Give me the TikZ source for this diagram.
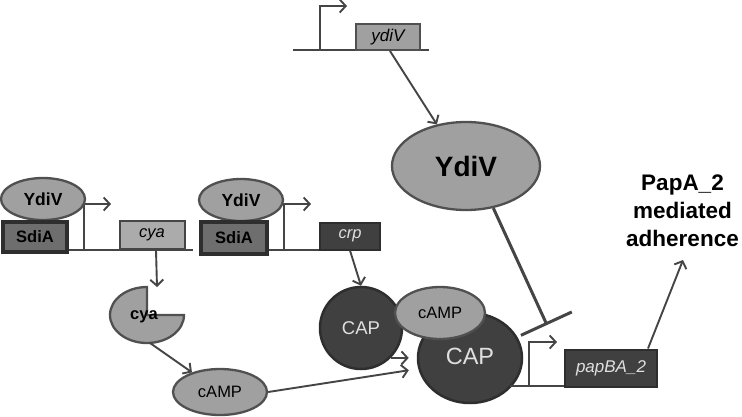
\documentclass[tikz,border=0pt]{standalone}
\usepackage{fontspec}
\setmainfont{Liberation Sans}
\usetikzlibrary{arrows.meta,shapes.geometric}
\definecolor{lg}{HTML}{A0A0A0}
\definecolor{lgbox}{HTML}{ABABAB}
\definecolor{mg}{HTML}{6E6E6E}
\definecolor{dk}{HTML}{404040}
\definecolor{edge}{HTML}{505050}
\definecolor{dedge}{HTML}{2E2E2E}
\definecolor{ln}{HTML}{454545}
\definecolor{wtxt}{HTML}{E0E0E0}
\newcommand{\fs}[1]{\fontsize{#1}{#1}\selectfont}
\tikzset{
  oval/.style={ellipse, draw=edge, line width=2.3pt, fill=lg, inner sep=0pt},
  darkoval/.style={ellipse, draw=dedge, line width=2.5pt, fill=dk, inner sep=0pt, text=wtxt},
  sdia/.style={rectangle, draw=dedge, line width=3.5pt, fill=mg, inner sep=0pt, minimum width=64pt, minimum height=30pt, font=\bfseries\fs{16.5}},
  genebox/.style={rectangle, draw=edge, line width=2pt, inner sep=0pt, font=\itshape\fs{16.5}},
  dna/.style={draw=ln, line width=2pt},
  prom/.style={draw=ln, line width=1.9pt, -{Straight Barb[length=6pt,width=13pt,line width=1.9pt]}},
  arr/.style={draw=ln, line width=1.9pt, -{Straight Barb[length=6pt,width=13pt,line width=1.9pt]}},
  inhib/.style={draw=ln, line width=3pt, -{Bar[width=56pt,line width=3pt]}}
}
\begin{document}
\begin{tikzpicture}[x=1pt,y=-1pt]
\useasboundingbox[fill=white] (0,0) rectangle (742,416);

% ---- top ydiV gene
\coordinate (tl) at (293,50);
\coordinate (tr) at (429,50);
\coordinate (tp0) at (320,50);
\coordinate (tp1) at (320,6);
\coordinate (tp2) at (347,6);
\draw[dna] (tl) -- (tr);
\draw[prom] (tp0) -- (tp1) -- (tp2);
\node[genebox, fill=lg, minimum width=64pt, minimum height=26pt, font=\itshape\fs{17}] (ydivbox) at (388,37) {ydiV};

% ---- big YdiV
\node[oval, minimum width=148pt, minimum height=88pt, font=\bfseries\fs{28}] (bigydiv) at (466,166) {YdiV};
\draw[arr] ([xshift=2pt]ydivbox.south) -- (bigydiv.125);

% ---- group 1 (cya)
\coordinate (g1l) at (67,250);
\coordinate (g1r) at (193,250);
\coordinate (g1p0) at (84,250);
\coordinate (g1p1) at (84,204);
\coordinate (g1p2) at (111,204);
\draw[dna] (g1l) -- (g1r);
\draw[prom] (g1p0) -- (g1p1) -- (g1p2);
\node[oval, minimum width=84pt, minimum height=42pt, font=\bfseries\fs{17.5}] (ydiv1) at (43,199) {YdiV};
\node[sdia] (sdia1) at (35,237) {SdiA};
\node[genebox, fill=lgbox, draw=ln, minimum width=65pt, minimum height=28pt] (cyabox) at (152,235) {cya};

% ---- group 2 (crp)
\coordinate (g2l) at (267,250);
\coordinate (g2r) at (380,250);
\coordinate (g2p0) at (284,250);
\coordinate (g2p1) at (284,204);
\coordinate (g2p2) at (311,204);
\draw[dna] (g2l) -- (g2r);
\draw[prom] (g2p0) -- (g2p1) -- (g2p2);
\node[oval, minimum width=84pt, minimum height=42pt, font=\bfseries\fs{17.5}] (ydiv2) at (241,200) {YdiV};
\node[sdia, minimum width=66pt, minimum height=32pt] (sdia2) at (234,238) {SdiA};
\node[genebox, fill=dk, draw=dedge, text=wtxt, minimum width=60pt, minimum height=27pt] (crpbox) at (350,236) {crp};

% ---- cya enzyme (pacman)
\draw[draw=edge, line width=2.3pt, fill=lg] (147,287) arc[start angle=90, end angle=360, x radius=37pt, y radius=28pt] -- (147,315) -- cycle;
\node[font=\bfseries\fs{16.5}] (cyaenz) at (144,317) {cya};
\coordinate (cyaenzin) at (157,287);
\coordinate (cyaenzout) at (150,343);
\draw[arr] ([xshift=4pt]cyabox.south) -- (cyaenzin);

% ---- cAMP (free)
\node[oval, minimum width=94pt, minimum height=46pt, font=\fs{16.5}] (camp1) at (220,392) {cAMP};
\draw[arr] (cyaenzout) -- (camp1);

% ---- CAP complex
\node[darkoval, minimum width=82pt, minimum height=82pt, font=\fs{18.5}] (smallcap) at (361,328) {CAP};
\node[darkoval, minimum width=104pt, minimum height=90pt, font=\fs{23.5}] (bigcap) at (470,358) {\raisebox{4pt}{CAP}};
\node[oval, minimum width=90pt, minimum height=52pt, font=\fs{16.5}] (camp2) at (440,313) {cAMP};
\draw[arr] (crpbox.south) -- (smallcap.north);
\draw[arr, shorten >=8pt] (smallcap.-45) -- (smallcap.-45 -| bigcap.west);
\draw[arr, shorten >=8pt] (camp1.east) -- ([yshift=-11pt]bigcap.west);

% ---- papBA_2 gene
\coordinate (pl) at (510,386);
\coordinate (pp0) at (529,386);
\coordinate (pp1) at (529,342);
\coordinate (pp2) at (557,342);
\node[genebox, fill=dk, draw=dedge, text=wtxt, minimum width=92pt, minimum height=37pt, font=\itshape\fs{17}] (papbox) at (611,368) {papBA\_2};
\draw[dna] (pl) -- (papbox.west |- pl);
\draw[prom] (pp0) -- (pp1) -- (pp2);

% ---- inhibition
\coordinate (inh) at (547,325);
\draw[inhib] (bigydiv.-57) -- (inh);

% ---- outcome
\node[font=\bfseries\fs{22.5}, align=center, text=black, inner sep=0pt] (out) at (682.5,211) {PapA\_2\\[5.5pt]mediated\\[5.5pt]adherence};
\coordinate (outin) at (683,260);
\draw[arr] ([xshift=37pt]papbox.north) -- (outin);
\end{tikzpicture}
\end{document}
